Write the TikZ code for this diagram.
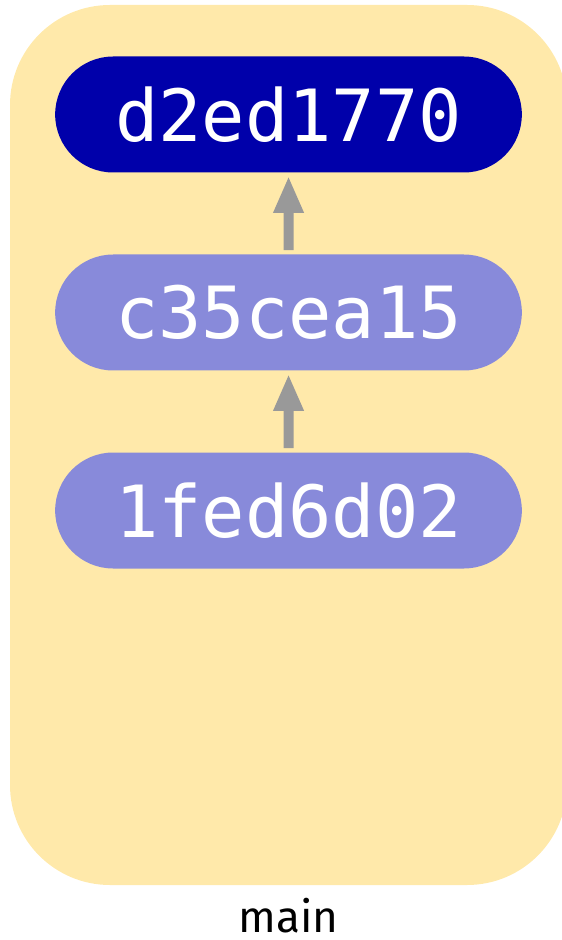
\documentclass[tikz,border=0pt]{standalone}
\usepackage{fontspec}
\setmainfont{Fira Sans}
\setmonofont{DejaVu Sans Mono}
\usetikzlibrary{arrows.meta,shapes.misc}

\definecolor{branchbg}{RGB}{255,233,170}
\definecolor{headcommit}{RGB}{0,0,170}
\definecolor{oldcommit}{RGB}{136,138,218}
\definecolor{parentline}{RGB}{153,153,153}

\begin{document}
\begin{tikzpicture}[x=0.5pt,y=-0.5pt]

\def\sz{99}
\tikzstyle{commit} = [
	rounded rectangle, draw=none, fill=oldcommit, text=white,
	minimum height=58pt, minimum width=240pt,
	font=\ttfamily\fontsize{36}{36}\selectfont ];
\tikzstyle{head} = [commit, fill=headcommit];
\tikzstyle{parent} = [
	draw=parentline, line width=5pt,
	-{Triangle[length=18.5pt,width=14pt]},
	shorten >=1.5pt, shorten <=2pt ];
\useasboundingbox (0,0) rectangle (561,940);

\fill[branchbg, rounded corners=50pt] (10,5) rectangle (567,885);

\node[head]   (c0) at (288.5,0*\sz+114.5) {d2ed1770};
\node[commit] (c1) at (288.5,2*\sz+114.5) {c35cea15};
\node[commit] (c2) at (288.5,4*\sz+114.5) {1fed6d02};

\draw[parent] (c1) -- (c0);
\draw[parent] (c2) -- (c1);

\node[font=\fontsize{22}{22}\selectfont, inner sep=0pt, anchor=base]
	(branch) at (288.5,932) {main};

\end{tikzpicture}
\end{document}
